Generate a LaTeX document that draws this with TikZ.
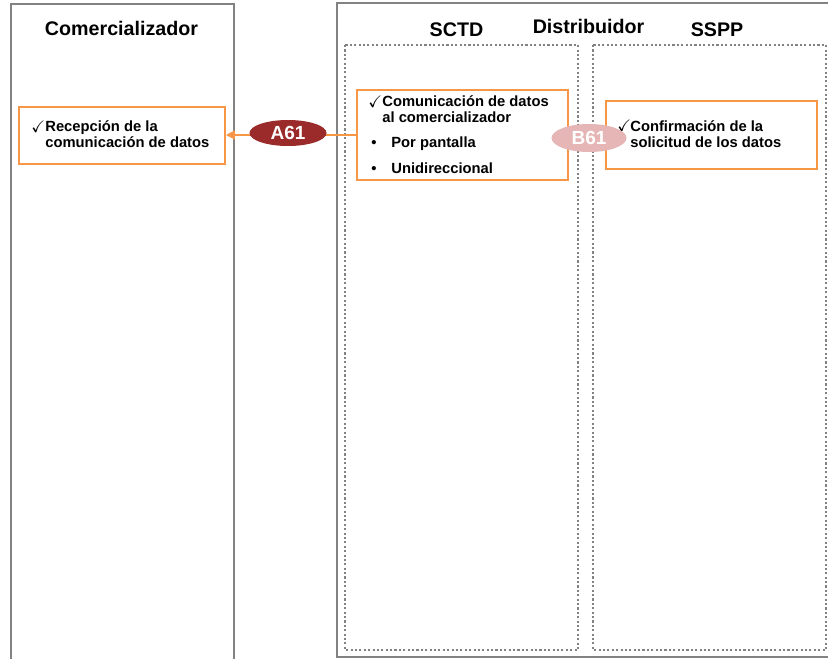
\documentclass[tikz,border=0pt]{standalone}
\usepackage{amssymb}
\usepackage{fontspec}
\setmainfont{Liberation Sans}
\usetikzlibrary{arrows.meta,shapes.geometric}
\definecolor{gris}{RGB}{130,130,130}
\definecolor{naranja}{RGB}{247,150,70}
\definecolor{granate}{RGB}{155,42,42}
\definecolor{rosado}{RGB}{230,182,182}

\begin{document}
\begin{tikzpicture}[x=0.02cm,y=-0.02cm,font=\bfseries,
  titulo/.style={anchor=base,inner sep=0pt,font=\fontsize{11.2}{13}\selectfont\bfseries},
  texto/.style={anchor=base west,inner sep=0pt,align=left,font=\fontsize{8.4}{8.7}\selectfont\bfseries},
  marca/.style={anchor=base west,inner sep=0pt,font=\fontsize{9.5}{10}\selectfont},
  caja/.style={draw=naranja,line width=1.1pt,inner sep=0pt},
  carril/.style={draw=gris,line width=1.2pt},
  subcarril/.style={draw=gris,line width=1.4pt,dash pattern=on 1.2pt off 1.3pt},
  etiqueta/.style={ellipse,inner sep=0pt,text=white,font=\fontsize{10.8}{12}\selectfont\bfseries}]
  \def\px{0.02cm}
  \useasboundingbox (0,0) rectangle (828,659);
  % carriles
  \draw[carril] (11,665) -- (11,4) -- (234,4) -- (234,665);
  \draw[carril] (835,3) -- (337,3) -- (337,657) -- (835,657);
  \draw[subcarril] (345,45) rectangle (578,650);
  \draw[subcarril] (593,45) rectangle (826,650);
  \node[titulo] (comer) at (121.5,35) {Comercializador};
  \node[titulo] (distr) at (588.5,33) {Distribuidor};
  \node[titulo] (sctdt) at (456.5,36) {SCTD};
  \node[titulo] (ssppt) at (717,36) {SSPP};
  % cajas
  \node[caja,minimum width={206*\px},minimum height={57*\px}] (recep) at (122,135.5) {};
  \node[caja,minimum width={211*\px},minimum height={90*\px}] (sctd) at (462.5,135) {};
  \node[caja,minimum width={211*\px},minimum height={68*\px}] (sspp) at (711.5,135) {};
  % textos
  \node[marca] (chk1) at (31,132) {$\checkmark$};
  \node[texto] (txt1) at (45,147) {Recepción de la\\comunicación de datos};
  \node[marca] (chk2) at (368,107) {$\checkmark$};
  \node[texto] (txt2) at (382,122) {Comunicación de datos\\al comercializador};
  \foreach \t/\yy [count=\i] in {Por pantalla/147,Unidireccional/173}{
    \node[texto] (bala\i) at (371,\yy) {•};
    \node[texto] (item\i) at (391,\yy) {\t};}
  \node[marca] (chk3) at (617,131) {$\checkmark$};
  \node[texto] (txt3) at (630,147) {Confirmación de la\\solicitud de los datos};
  % flujo
  \draw[draw=naranja,line width=1.1pt,-{Triangle[length=5pt,width=5pt]}]
    (sctd.west) -- (sctd.west -| recep.east);
  \node[etiqueta,fill=granate,minimum width={77*\px},minimum height={26*\px}] (a61) at (288,133) {A61};
  \node[etiqueta,fill=rosado,minimum width={75*\px},minimum height={28*\px}] (b61) at (589,138) {B61};
\end{tikzpicture}
\end{document}
